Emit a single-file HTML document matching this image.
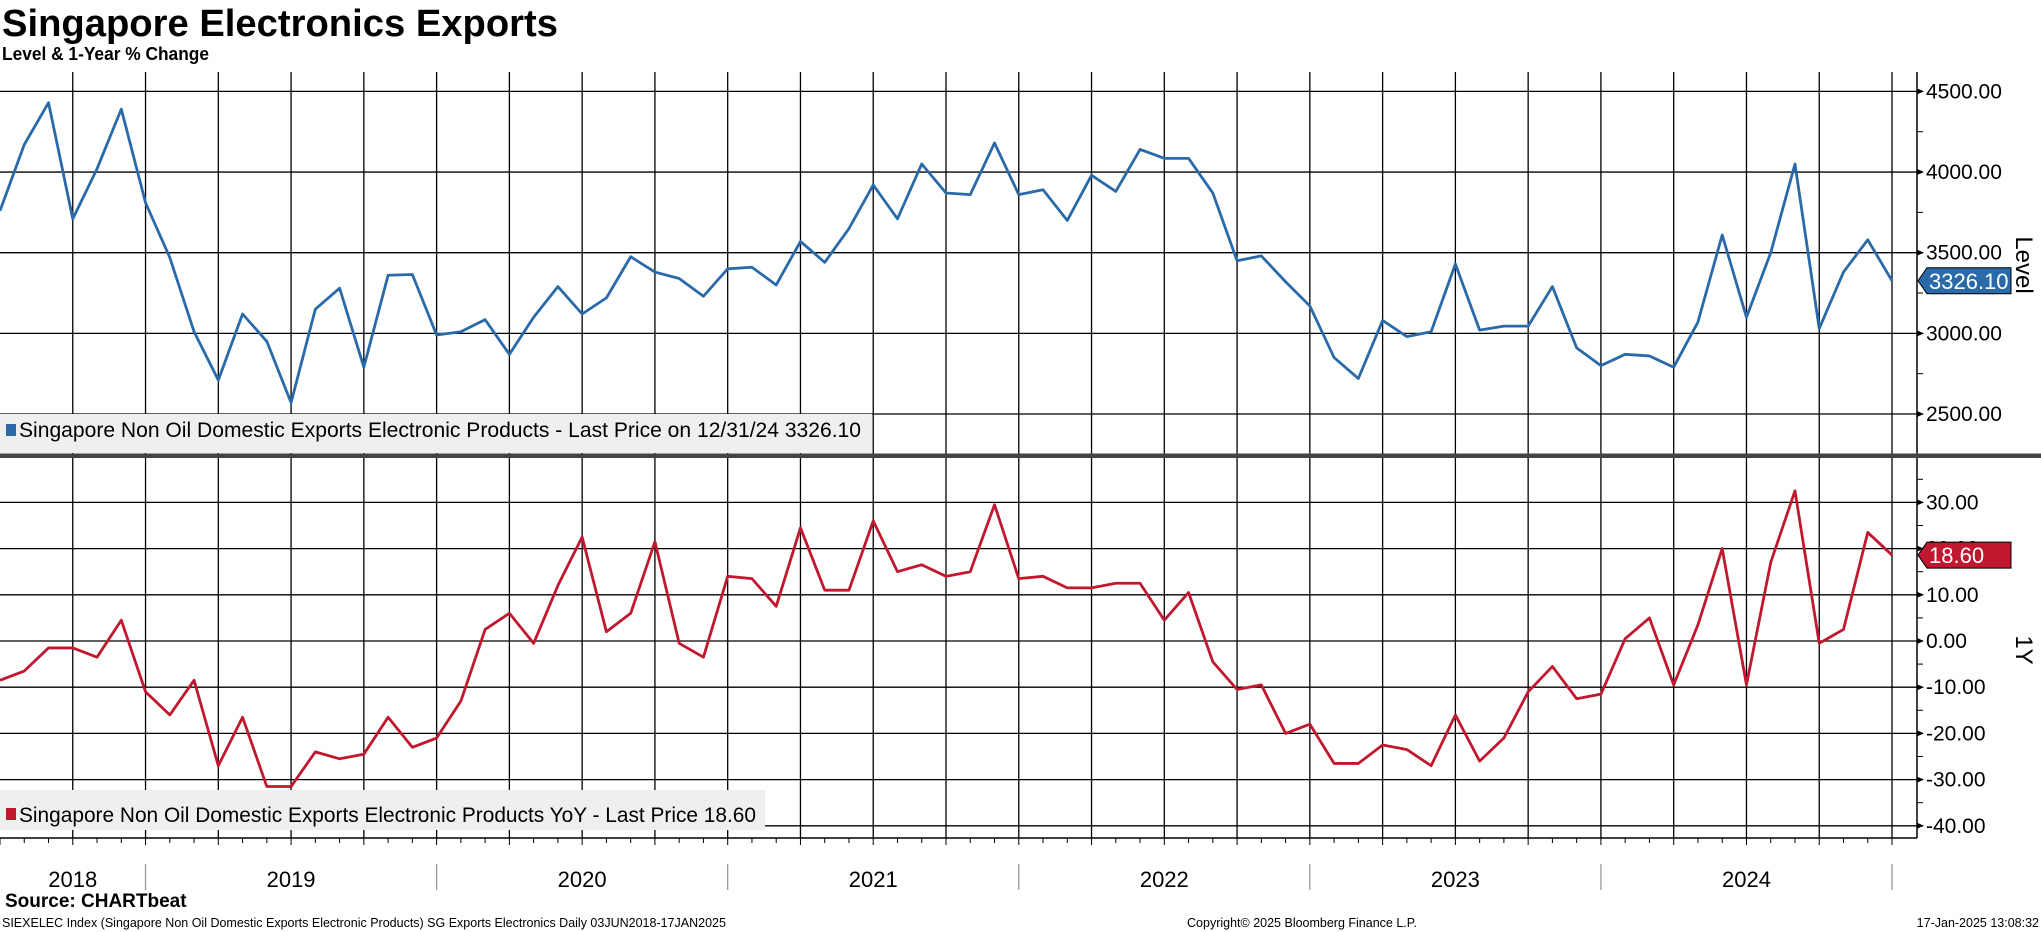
<!DOCTYPE html>
<html><head><meta charset="utf-8"><style>
html,body{margin:0;padding:0;background:#fff;width:2041px;height:932px;overflow:hidden;font-family:"Liberation Sans",sans-serif;}
svg{display:block}
</style></head><body>
<svg id="chart" width="2041" height="932" xmlns="http://www.w3.org/2000/svg">
<text x="2" y="36" font-family="Liberation Sans, sans-serif" font-weight="bold" font-size="38" textLength="556" lengthAdjust="spacingAndGlyphs">Singapore Electronics Exports</text>
<text x="2" y="60" font-family="Liberation Sans, sans-serif" font-weight="bold" font-size="18" textLength="207" lengthAdjust="spacingAndGlyphs">Level &amp; 1-Year % Change</text>
<g id="grid"></g>
<g id="series"></g>
<g id="axes"></g>
<text x="5" y="907" font-weight="bold" font-size="19">Source: CHARTbeat</text>
<text x="2" y="927" font-size="12.5">SIEXELEC Index (Singapore Non Oil Domestic Exports Electronic Products) SG Exports Electronics  Daily 03JUN2018-17JAN2025</text>
<text x="1302" y="927" font-size="12.5" text-anchor="middle">Copyright© 2025 Bloomberg Finance L.P.</text>
<text x="2039" y="927" font-size="12.5" text-anchor="end">17-Jan-2025 13:08:32</text>
</svg>
<script>
const levelValues=[3760,4170,4430,3710,4020,4390,3810,3470,3010,2710,3120,2950,2570,3150,3280,2790,3360,3365,2990,3010,3085,2870,3100,3290,3120,3220,3475,3380,3340,3230,3400,3410,3300,3570,3440,3650,3920,3710,4050,3870,3860,4180,3860,3890,3700,3980,3880,4140,4085,4085,3870,3450,3480,3320,3170,2850,2720,3080,2980,3010,3430,3020,3045,3045,3290,2910,2800,2870,2860,2790,3070,3610,3100,3500,4050,3030,3380,3580,3326.1];
const yoyValues=[-8.5,-6.5,-1.5,-1.5,-3.5,4.5,-11,-16,-8.5,-27,-16.5,-31.5,-31.5,-24,-25.5,-24.5,-16.5,-23,-21,-13,2.5,6,-0.5,12,22.5,2,6,21.5,-0.5,-3.5,14,13.5,7.5,24.5,11,11,26,15,16.5,14,15,29.5,13.5,14,11.5,11.5,12.5,12.5,4.5,10.5,-4.5,-10.5,-9.5,-20,-18,-26.5,-26.5,-22.5,-23.5,-27,-16,-26,-21,-11,-5.5,-12.5,-11.5,0.5,5,-9.5,3.5,20,-9.5,17,32.5,-0.5,2.5,23.5,18.6];
const yearLabels=["2018","2019","2020","2021","2022","2023","2024"];
const levelTicks=[2500,3000,3500,4000,4500];
const yoyTicks=[-40,-30,-20,-10,0,10,20,30];
const levelLast="3326.10";
const yoyLast="18.60";

const NS="http://www.w3.org/2000/svg";
const AX=1917, PW=1892/78;
const x=i=>i*PW;
const yL=v=>414-(v-2500)*(322.6/2000);
const yY=v=>641-v*4.62;
function mk(tag,attrs,parent,txt){const e=document.createElementNS(NS,tag);for(const k in attrs)e.setAttribute(k,attrs[k]);if(txt!=null)e.textContent=txt;parent.appendChild(e);return e;}
const grid=document.getElementById('grid'),ser=document.getElementById('series'),axes=document.getElementById('axes');

for(let i=3;i<=78;i+=3){
  const l=mk('line',{x1:x(i),x2:x(i),y1:72,y2:838,stroke:'#000','stroke-width':1.3},grid);
  
  
}
for(let i=0;i<=78;i++){
  const l=mk('line',{x1:x(i),x2:x(i),y1:838,y2:i%3==0?845:843,stroke:'#000','stroke-width':1},axes);
  
  
}
levelTicks.forEach(v=>{
  const y=yL(v);
  const l=mk('line',{x1:0,x2:AX,y1:y,y2:y,stroke:'#000','stroke-width':1.3},grid);
  
  
  mk('path',{d:`M${AX} ${y-3}L${AX+7} ${y}L${AX} ${y+3}Z`,fill:'#000'},axes);
  const t=mk('text',{x:AX+9,y:y+7,'font-size':21},axes,v.toFixed(2));
  
  
});
for(let v=2250;v<=4750;v+=250){const y=yL(v);if(y>72&&y<455)mk('line',{x1:AX,x2:AX+6,y1:y,y2:y,stroke:'#000'},axes);}
yoyTicks.forEach(v=>{
  const y=yY(v);
  const l=mk('line',{x1:0,x2:AX,y1:y,y2:y,stroke:'#000','stroke-width':1.3},grid);
  
  
  mk('path',{d:`M${AX} ${y-3}L${AX+7} ${y}L${AX} ${y+3}Z`,fill:'#000'},axes);
  const t=mk('text',{x:AX+9,y:y+7,'font-size':21},axes,v.toFixed(2));
  
  
});
for(let v=-45;v<=35;v+=5){const y=yY(v);if(y>458&&y<838)mk('line',{x1:AX,x2:AX+6,y1:y,y2:y,stroke:'#000'},axes);}
mk('line',{x1:AX,x2:AX,y1:72,y2:838,stroke:'#000','stroke-width':1.5},axes);
mk('line',{x1:0,x2:AX,y1:838,y2:838,stroke:'#000','stroke-width':1.5},axes);
const sep=mk('rect',{x:0,y:453.5,width:2041,height:4.5,fill:'#444'},axes);



const lg1=mk('g',{},ser);


mk('rect',{x:0,y:414,width:872,height:39,fill:'#efefef'},lg1);
mk('rect',{x:6,y:424,width:10,height:12,fill:'#2a6aa8'},lg1);
mk('text',{x:19,y:437,'font-size':21,textLength:842,lengthAdjust:'spacingAndGlyphs'},lg1,'Singapore Non Oil Domestic Exports Electronic Products - Last Price on 12/31/24 3326.10');
const lg2=mk('g',{},ser);


mk('rect',{x:0,y:790,width:765,height:40,fill:'#efefef'},lg2);
mk('rect',{x:6,y:808,width:10,height:12,fill:'#c0182f'},lg2);
mk('text',{x:19,y:822,'font-size':21,textLength:737,lengthAdjust:'spacingAndGlyphs'},lg2,'Singapore Non Oil Domestic Exports Electronic Products YoY - Last Price 18.60');

const p1=mk('polyline',{points:levelValues.map((v,i)=>x(i)+','+yL(v)).join(' '),fill:'none',stroke:'#2a6aa8','stroke-width':2.8,'stroke-linejoin':'round'},ser);


const p2=mk('polyline',{points:yoyValues.map((v,i)=>x(i)+','+yY(v)).join(' '),fill:'none',stroke:'#c0182f','stroke-width':2.8,'stroke-linejoin':'round'},ser);



function tag(y,color,txt,name){
  const g=mk('g',{},axes);
  
  
  mk('path',{d:`M${AX+1} ${y}L${AX+10} ${y-13}H2011V${y+13}H${AX+10}Z`,fill:color,stroke:'#000','stroke-width':1},g);
  mk('text',{x:AX+12,y:y+8,'font-size':22,fill:'#fff'},g,txt);
}
tag(yL(levelValues[levelValues.length-1]),'#2a6aa8',levelLast,'level-last-value-tag');
tag(yY(yoyValues[yoyValues.length-1]),'#c0182f',yoyLast,'yoy-last-value-tag');

const at1=mk('text',{x:2016,y:265,'font-size':24,transform:'rotate(90 2016 265)','text-anchor':'middle'},axes,'Level');


const at2=mk('text',{x:2016,y:650,'font-size':24,transform:'rotate(90 2016 650)','text-anchor':'middle'},axes,'1Y');



yearLabels.forEach((yr,k)=>{
  const s=k==0?0:x(6+12*(k-1)), e=x(6+12*k);
  const t=mk('text',{x:(s+e)/2,y:887,'font-size':22,'text-anchor':'middle'},axes,yr);
  
  
  mk('line',{x1:e,x2:e,y1:864,y2:890,stroke:'#999','stroke-width':1.3},axes);
});
</script>
</body></html>
